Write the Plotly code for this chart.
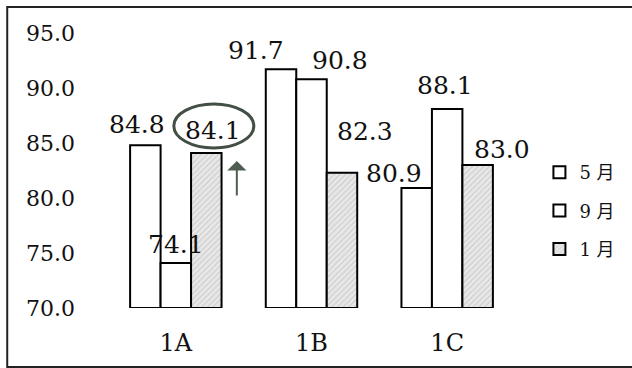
import plotly.graph_objects as go

categories = ["1A", "1B", "1C"]
series_names = ["5 月", "9 月", "1 月"]
may_values = [84.8, 91.7, 80.9]
sep_values = [74.1, 90.8, 88.1]
jan_values = [84.1, 82.3, 83.0]
tick_vals = [70, 75, 80, 85, 90, 95]

series_values = [may_values, sep_values, jan_values]

# label placement offsets (pixels, relative to category centre / bar top)
label_dx = [[-39, -56, -53], [0, 28, -2], [37, 53, 55]]
label_dy = [[21, 19, 15], [18, 19, 23], [22, 41, 16]]

NUM_FONT = "DejaVu Serif, Noto Sans CJK JP, serif"

fig = go.Figure()
for i, (name, vals) in enumerate(zip(series_names, series_values)):
    hatched = i == 2
    fig.add_trace(go.Bar(
        x=categories, y=[v - 70 for v in vals], base=70, name=name,
        legendgroup=name,
        marker=dict(
            color="#e4e4e4" if hatched else "white",
            line=dict(color="black", width=2),
            pattern=dict(shape="/" if hatched else "", fgcolor="#a8a8a8",
                         bgcolor="#e8e8e8", size=4, solidity=0.25),
        ),
    ))
    for j, (c, v) in enumerate(zip(categories, vals)):
        fig.add_annotation(
            x=c, y=v, text=f"{v:.1f}", showarrow=False,
            xshift=label_dx[i][j], yshift=label_dy[i][j],
            yanchor="middle", xanchor="center",
            font=dict(family=NUM_FONT, size=25, color="#111"),
        )

# hand-drawn circle around the 1A / 1月 label and arrow
fig.add_shape(type="circle", xref="x", yref="y", xsizemode="pixel", ysizemode="pixel",
              xanchor="1A", yanchor=jan_values[0], x0=-2, x1=78, y0=5, y1=49,
              line=dict(color="#434f45", width=3))
fig.add_annotation(x="1A", y=jan_values[0], xshift=61, yshift=-8, text="",
                   showarrow=True, ax=0, ay=36, arrowhead=1, arrowsize=1.6,
                   arrowwidth=2, arrowcolor="#4f5e51")

# outer frame
fig.add_shape(type="rect", xref="paper", yref="paper",
              x0=-0.2476, x1=1.3, y0=-0.2145, y1=1.0945,
              line=dict(color="#222", width=2), layer="below")

fig.update_layout(
    width=632, height=368,
    margin=dict(l=107.5, r=110.5, t=33, b=60),
    paper_bgcolor="white", plot_bgcolor="white",
    barmode="group", bargap=0.326, bargroupgap=0,
    font=dict(family=NUM_FONT, color="#111"),
    legend=dict(x=1.06, y=0.56, xanchor="left", yanchor="top",
                font=dict(family=NUM_FONT, size=18),
                tracegroupgap=12, bgcolor="rgba(0,0,0,0)"),
    xaxis=dict(showline=False, showgrid=False, ticks="", zeroline=False,
               tickfont=dict(size=24), ticklabelstandoff=18,
               range=[-0.5, 2.5]),
    yaxis=dict(range=[70, 95], tickvals=tick_vals, tickformat=".1f",
               showgrid=False, zeroline=False, showline=False, ticks="",
               tickfont=dict(size=22), ticklabelstandoff=32),
)
fig.update_traces(cliponaxis=False)

fig.write_html("out.html", config={"displayModeBar": False},
               post_script="document.body.style.margin='0';")
